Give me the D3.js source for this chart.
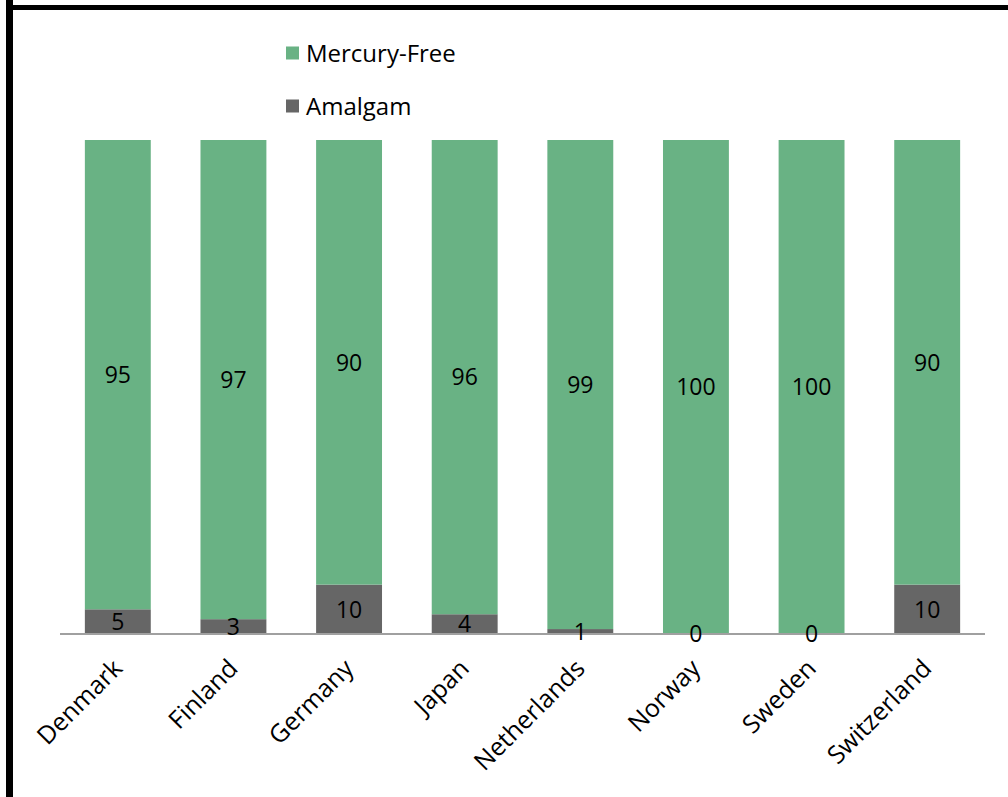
<!DOCTYPE html>
<html>
<head>
<meta charset="utf-8">
<script src="https://cdn.jsdelivr.net/npm/d3@7"></script>
<style>
  html, body { margin: 0; padding: 0; background: #fff; }
  svg { display: block; }
  text { font-family: "Open Sans", "DejaVu Sans", sans-serif; fill: #000; }
</style>
</head>
<body>
<svg id="chart" width="1008" height="797"></svg>
<script>
// Share of dental restorations by material, per country (%)
const countries = ["Denmark", "Finland", "Germany", "Japan", "Netherlands", "Norway", "Sweden", "Switzerland"];
const amalgam = [5, 3, 10, 4, 1, 0, 0, 10];
const mercuryFree = [95, 97, 90, 96, 99, 100, 100, 90];
const seriesNames = ["Mercury-Free", "Amalgam"];
const colors = { "Amalgam": "#666666", "Mercury-Free": "#69b284" };

const svg = d3.select("#chart");

// frame: thick left and top edges
svg.append("rect").attr("x", 6).attr("y", 0).attr("width", 7).attr("height", 797).attr("fill", "#000");
svg.append("rect").attr("x", 6).attr("y", 5).attr("width", 1002).attr("height", 5).attr("fill", "#000");

const plot = { left: 60, right: 985, top: 140, bottom: 634 };

const x = d3.scaleBand()
  .domain(countries)
  .range([plot.left, plot.right])
  .paddingInner(0.43)
  .paddingOuter(0.215);

const y = d3.scaleLinear().domain([0, 100]).range([plot.bottom, plot.top]);

const rows = countries.map((c, i) => ({ country: c, "Amalgam": amalgam[i], "Mercury-Free": mercuryFree[i] }));
const stack = d3.stack().keys(["Amalgam", "Mercury-Free"])(rows);

const layers = svg.append("g").selectAll("g")
  .data(stack)
  .join("g")
  .attr("fill", d => colors[d.key]);

layers.selectAll("rect")
  .data(d => d)
  .join("rect")
  .attr("x", d => x(d.data.country))
  .attr("width", x.bandwidth())
  .attr("y", d => y(d[1]))
  .attr("height", d => y(d[0]) - y(d[1]));

// baseline axis
const axis = svg.append("g").attr("transform", `translate(0,${plot.bottom})`)
  .call(d3.axisBottom(x).tickSize(0).tickPadding(0));
axis.select(".domain").attr("d", `M${plot.left},0H${plot.right}`).attr("stroke", "#a0a0a0").attr("stroke-width", 2);
axis.selectAll(".tick text").remove();

// rotated category labels
svg.append("g").selectAll("text")
  .data(countries)
  .join("text")
  .attr("transform", d => `translate(${x(d) + x.bandwidth() / 2 + 6},${plot.bottom + 36}) rotate(-45)`)
  .attr("text-anchor", "end")
  .attr("font-size", 25)
  .text(d => d);

// value labels centred in each segment
stack.forEach(layer => {
  svg.append("g").selectAll("text")
    .data(layer)
    .join("text")
    .attr("x", d => x(d.data.country) + x.bandwidth() / 2)
    .attr("y", d => (y(d[0]) + y(d[1])) / 2)
    .attr("dy", "0.36em")
    .attr("text-anchor", "middle")
    .attr("font-size", 23)
    .text(d => d.data[layer.key]);
});

// legend
const legend = svg.append("g").selectAll("g")
  .data(seriesNames)
  .join("g")
  .attr("transform", (d, i) => `translate(286,${53 + i * 53})`);
legend.append("rect").attr("x", 0).attr("y", -6.5).attr("width", 13).attr("height", 13).attr("fill", d => colors[d]);
legend.append("text").attr("x", 20).attr("y", 0).attr("dy", "0.36em").attr("font-size", 24).text(d => d);
</script>
</body>
</html>
